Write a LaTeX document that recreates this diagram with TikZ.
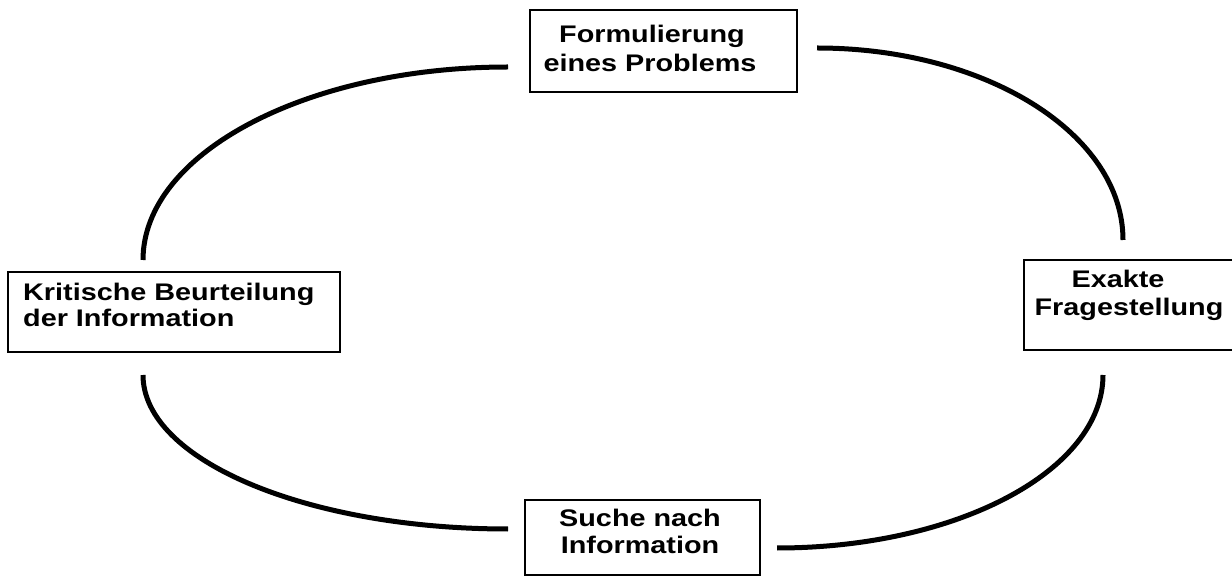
\documentclass[tikz,border=0pt]{standalone}
\usepackage{fontspec}
\setmainfont[FakeStretch=1.2]{Liberation Sans}
\begin{document}
\begin{tikzpicture}[x=1pt,y=1pt,
  box/.style={draw, line width=2pt, inner sep=0pt, outer sep=0pt},
  lbl/.style={font=\fontsize{24}{28}\selectfont\bfseries, inner sep=0pt, anchor=base},
  lbll/.style={lbl, anchor=base west},
  loop/.style={line width=5pt}]
\useasboundingbox (0,0) rectangle (1232,576);
\clip (0,0) rectangle (1232,576);
% boxes
\node[box, minimum width=267pt, minimum height=82pt] (top) at (663.5,525) {};
\node[box, minimum width=332pt, minimum height=80pt] (left) at (174,264) {};
\node[box, minimum width=216pt, minimum height=90pt] (right) at (1132,271) {};
\node[box, minimum width=235pt, minimum height=75pt] (bottom) at (642.5,38.5) {};
% labels
\node[lbl] (t1) at (652,533) {Formulierung};
\node[lbl] (t2) at (650,504.5) {eines Problems};
\node[lbll] (l1) at (23,275.5) {Kritische Beurteilung};
\node[lbll] (l2) at (23,249.5) {der Information};
\node[lbl] (r1) at (1118,288) {Exakte};
\node[lbl] (r2) at (1129,260) {Fragestellung};
\node[lbl] (b1) at (640,49.5) {Suche nach};
\node[lbl] (b2) at (640,23) {Information};
% connector ends
\coordinate (tlA) at (143,316);
\coordinate (trA) at (817,528);
\coordinate (blA) at (143,201);
\coordinate (brA) at (777,28);
% arcs
\draw[loop] (tlA) arc[start angle=180, end angle=90, x radius=365pt, y radius=193pt];
\draw[loop] (trA) arc[start angle=90, end angle=0, x radius=306pt, y radius=192pt];
\draw[loop] (blA) arc[start angle=180, end angle=270, x radius=365pt, y radius=154pt];
\draw[loop] (brA) arc[start angle=270, end angle=360, x radius=326pt, y radius=173pt];
\end{tikzpicture}
\end{document}
